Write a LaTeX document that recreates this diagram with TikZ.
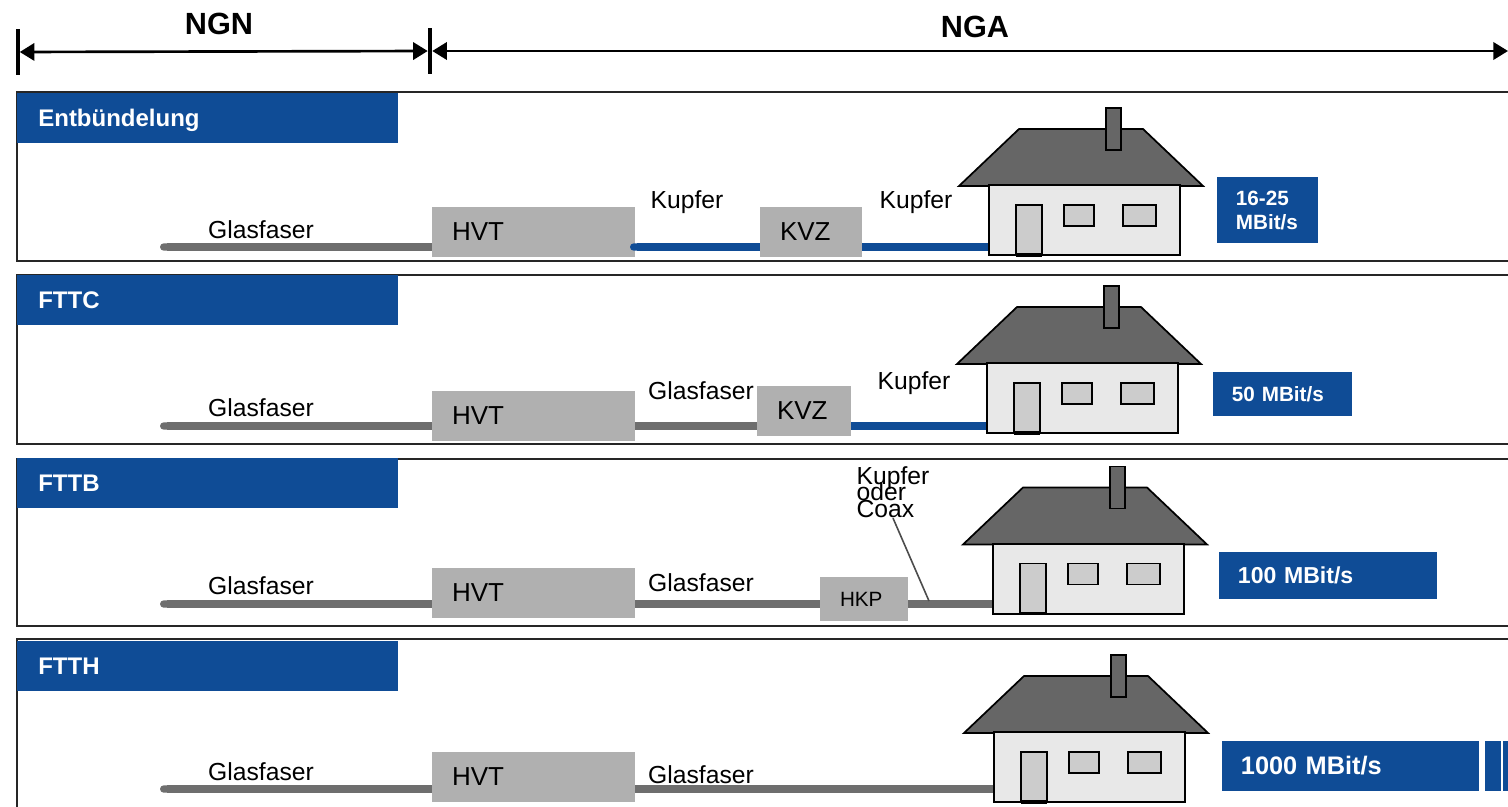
\documentclass[tikz,border=0pt]{standalone}
\usepackage{fontspec}
\setmainfont{Liberation Sans}
\usepackage{xcolor}
\usepackage{tikz}
\usetikzlibrary{arrows.meta,positioning}
\definecolor{netblue}{HTML}{0F4C96}
\definecolor{boxgrey}{HTML}{B0B0B0}
\definecolor{fibergrey}{HTML}{6E6E6E}

\begin{document}
\begin{tikzpicture}[
		x=0.75pt, y=-0.75pt,
		frame/.style={draw=black!85, line width=1.5pt},
		bar/.style={fill=black, minimum width=3pt, minimum height=34pt, inner sep=0pt},
		span/.style={{Triangle[length=11pt,width=13pt]}-{Triangle[length=11pt,width=13pt]}, line width=2pt},
		title/.style={font=\bfseries\fontsize{23}{26}\selectfont, inner sep=0pt},
		header/.style={fill=netblue, text=white, minimum height=37.5pt, text width=253.75pt, text height=13pt, text depth=0pt,
				inner xsep=16pt, inner ysep=0pt, align=left, font=\bfseries\fontsize{18}{20}\selectfont},
		central/.style={fill=boxgrey, minimum width=152.25pt, minimum height=37.5pt, text width=122.25pt,
				inner xsep=15pt, inner ysep=0pt, align=left, text=black, font=\fontsize{19.5}{22}\selectfont},
		cabinet/.style={fill=boxgrey, minimum height=37.5pt, inner xsep=15pt, inner ysep=0pt, align=left, text=black,
				font=\fontsize{19.5}{22}\selectfont},
		speed/.style={fill=netblue, text=white, inner xsep=14pt, inner ysep=0pt, align=left, anchor=west},
		medium/.style={inner sep=0pt, text=black, font=\fontsize{18.5}{21}\selectfont},
		fiber/.style={{Round Cap[]}-, line width=5.5pt, draw=fibergrey},
		fiberrun/.style={line width=5.5pt, draw=fibergrey},
		copper/.style={{Round Cap[]}-, line width=5.5pt, draw=netblue},
		copperrun/.style={line width=5.5pt, draw=netblue},
		leader/.style={draw=black!70, line width=1.2pt},
		wallbox/.style={draw=black, line width=1.3pt, fill=black!9, minimum width=143.5pt, minimum height=52.5pt,
				inner sep=0pt, anchor=south west},
		house/.pic={
			\draw[line width=1.3pt, fill=black!60] (-29,-70) -- (31,-127) -- (155,-127) -- (215,-70) -- cycle;
			\draw[line width=1.3pt, fill=black!60] (118,-106) rectangle (133,-148);
			\node[wallbox] (-wall) at (0,0) {};
			\draw[line width=1.3pt, fill=black!20] (28,-1) rectangle (54,-51);
			\draw[line width=2.5pt] (28,-1) -- (54,-1);
			\draw[line width=1.3pt, fill=black!20] (76,-30) rectangle (106,-51);
			\draw[line width=1.3pt, fill=black!20] (135,-30) rectangle (168,-51);
		}]

		\useasboundingbox (0,0) rectangle (1508,806);

		% -- NGN / NGA span --
		\node[bar] (barleft) at (17.5,52) {};
		\node[bar] (barmid) at (430,51) {};
		\coordinate (ngaend) at (1508,51);
		\draw[span] (barleft) -- (barmid);
		\draw[span] (barmid) -- (ngaend);
		\node[title] (ngn) at (219,24) {NGN};
		\node[title] (nga) at (975,27) {NGA};

		% -- Panel frames --
		\draw[frame] (1508,92) -- (17,92) -- (17,261) -- (1508,261);
		\draw[frame] (1508,275) -- (17,275) -- (17,444) -- (1508,444);
		\draw[frame] (1508,459) -- (17,459) -- (17,626) -- (1508,626);
		\draw[frame] (1508,639) -- (17,639) -- (17,807);

		% -- Entbuendelung --
		\node[header] (head1) at (207.5,118) {Entbündelung};
		\node[central] (hvt1) at (533.5,232) {HVT};
		\node[cabinet, text width=46.5pt] (kvz1) at (811,232) {KVZ};
		\pic (house1) at (988,256) {house};
		\node[speed, text width=47.75pt, minimum height=49.5pt, font=\bfseries\fontsize{15.5}{18}\selectfont] (speed1) at (1217,210) {16-25\\MBit/s};
		\coordinate (start1) at (160,247);
		\coordinate (blue1) at (630,247);
		\draw[fiber] (start1) -- (start1 -| hvt1.west);
		\draw[copper] (blue1) -- (blue1 -| kvz1.west);
		\draw[copperrun] (blue1 -| kvz1.east) -- (blue1 -| house1-wall.west);
		\node[medium] (glas1) at (261,230) {Glasfaser};
		\node[medium] (kupfer1a) at (687,202) {Kupfer};
		\node[medium] (kupfer1b) at (916,202) {Kupfer};

		% -- FTTC --
		\node[header] (head2) at (207.5,299.5) {FTTC};
		\node[central] (hvt2) at (533.5,416) {HVT};
		\node[cabinet, text width=40.5pt] (kvz2) at (804,411) {KVZ};
		\pic (house2) at (986,434) {house};
		\node[speed, text width=76.25pt, minimum height=33pt, font=\bfseries\fontsize{15.5}{18}\selectfont] (speed2) at (1213,394) {50 MBit/s};
		\coordinate (start2) at (160,426);
		\draw[fiber] (start2) -- (start2 -| hvt2.west);
		\draw[fiberrun] (start2 -| hvt2.east) -- (start2 -| kvz2.west);
		\draw[copperrun] (start2 -| kvz2.east) -- (start2 -| house2-wall.west);
		\node[medium] (glas2) at (261,408) {Glasfaser};
		\node[medium] (glas2b) at (701,391) {Glasfaser};
		\node[medium] (kupfer2) at (914,383) {Kupfer};

		% -- FTTB --
		\node[header] (head3) at (207.5,483) {FTTB};
		\node[central] (hvt3) at (533.5,593) {HVT};
		\node[cabinet, text width=36pt, minimum height=33pt, font=\fontsize{15.5}{18}\selectfont] (hkp) at (864,599) {HKP};
		\pic (house3) at (992,614.5) {house};
		\node[speed, text width=135.5pt, minimum height=35.25pt, font=\bfseries\fontsize{17.3}{20}\selectfont] (speed3) at (1219,575.5) {100 MBit/s};
		\coordinate (start3) at (160,604);
		\coordinate (leadfoot) at (929,601);
		\draw[fiber] (start3) -- (start3 -| hvt3.west);
		\draw[fiberrun] (start3 -| hvt3.east) -- (start3 -| hkp.west);
		\draw[fiberrun] (start3 -| hkp.east) -- (start3 -| house3-wall.west);
		\node[medium] (glas3) at (261,586) {Glasfaser};
		\node[medium] (glas3b) at (701,583) {Glasfaser};
		\node[medium, align=left, font=\fontsize{18.5}{12.6}\selectfont, execute at begin node={\lineskiplimit=-20pt\relax}] (coax) at (893,492) {Kupfer\\oder\\Coax};
		\draw[leader] (coax.south) -- (leadfoot);

		% -- FTTH --
		\node[header] (head4) at (207.5,666) {FTTH};
		\node[central] (hvt4) at (533.5,777) {HVT};
		\pic (house4) at (993,803) {house};
		\node[speed, text width=164.75pt, minimum height=37.5pt, font=\bfseries\fontsize{19}{22}\selectfont] (speed4) at (1222,766) {1000 MBit/s};
		\node[fill=netblue, minimum width=12pt, minimum height=37.5pt, inner sep=0pt] (rest4a) at (1493,766) {};
		\node[fill=netblue, minimum width=4.5pt, minimum height=37.5pt, inner sep=0pt] (rest4b) at (1505.5,766) {};
		\coordinate (start4) at (160,789);
		\draw[fiber] (start4) -- (start4 -| hvt4.west);
		\draw[fiberrun] (start4 -| hvt4.east) -- (start4 -| house4-wall.west);
		\node[medium] (glas4) at (261,772) {Glasfaser};
		\node[medium] (glas4b) at (701,775) {Glasfaser};

	\end{tikzpicture}
\end{document}
